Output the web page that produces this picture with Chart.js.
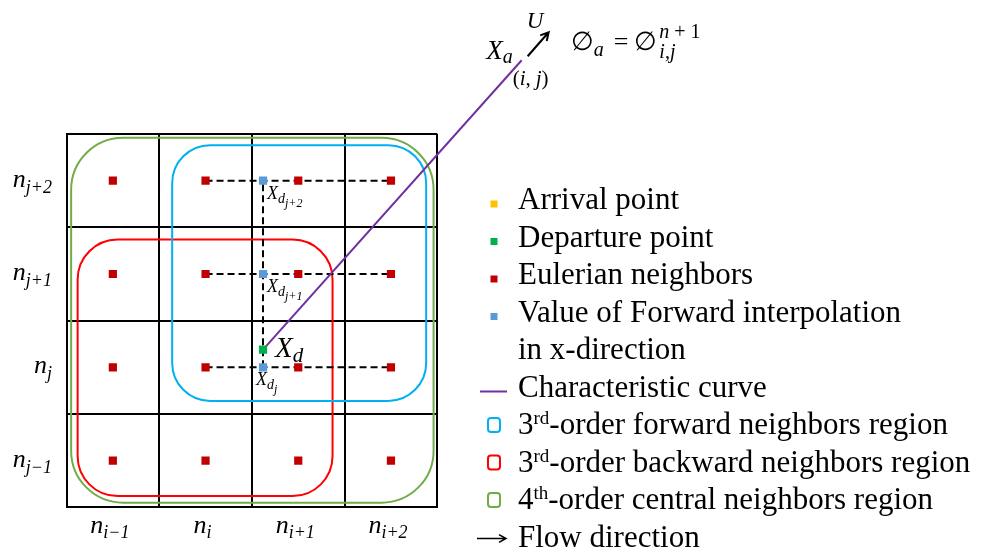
<!DOCTYPE html>
<html>
<head>
<meta charset="utf-8">
<script src="https://cdn.jsdelivr.net/npm/chart.js@4"></script>
<style>
  html, body { margin: 0; padding: 0; background: #fff; }
  #wrap { width: 981px; height: 554px; }
</style>
</head>
<body>
<div id="wrap"><canvas id="diagram" width="981" height="554"></canvas></div>
<script>
// cells: column 0..3 = n_{i-1}..n_{i+2}, row 0..3 = n_{j-1}..n_{j+2}
const colIdx = [0, 1, 2, 3];
const rowIdx = [0, 1, 2, 3];
const colSubs = ['i\u22121', 'i', 'i+1', 'i+2'];
const rowSubs = ['j\u22121', 'j', 'j+1', 'j+2'];
const cellEdges = [-0.5, 0.5, 1.5, 2.5, 3.5];

// forward interpolation in x-direction, on the column of the departure point
const interpX = 1.62;
const interpRows = [1, 2, 3];
const interpSubs = ['j', 'j+1', 'j+2'];

const departure = { x: 1.62, y: 1.19 };
const arrival = { x: 4.41, y: 4.29 };

// dashed lines run from column i to column i+2
const dashFrom = 1;
const dashTo = 3;

// regions as [left, right, bottom, top] in cell units
const regionForward = [0.64, 3.38, 0.64, 3.38];
const regionBackward = [-0.38, 2.37, -0.38, 2.37];
const regionCentral = [-0.45, 3.46, -0.45, 3.46];

const euler = [];
rowIdx.forEach(r => colIdx.forEach(c => euler.push({ x: c, y: r })));

const SERIF = '"Liberation Serif", "DejaVu Serif", serif';

function fontOf(s) {
  return (s.up ? '' : 'italic ') + s.size + 'px ' + SERIF;
}

// draw a run of text pieces (for subscripts), returns width
function mathRun(ctx, segs, x, y, align) {
  let w = 0;
  segs.forEach(s => {
    ctx.font = fontOf(s);
    s.w = ctx.measureText(s.t).width;
    w += s.w + (s.gap || 0);
  });
  let cx = x;
  if (align === 'right') cx = x - w;
  if (align === 'center') cx = x - w / 2;
  segs.forEach(s => {
    ctx.font = fontOf(s);
    ctx.fillText(s.t, cx, y + (s.dy || 0));
    cx += s.w + (s.gap || 0);
  });
  return w;
}

function arrow(ctx, x1, y1, x2, y2, head) {
  const a = Math.atan2(y2 - y1, x2 - x1);
  ctx.beginPath();
  ctx.moveTo(x1, y1);
  ctx.lineTo(x2, y2);
  ctx.moveTo(x2 - head * Math.cos(a - 0.5), y2 - head * Math.sin(a - 0.5));
  ctx.lineTo(x2, y2);
  ctx.lineTo(x2 - head * Math.cos(a + 0.5), y2 - head * Math.sin(a + 0.5));
  ctx.stroke();
}

const regionPlugin = {
  id: 'regions',
  beforeDatasetsDraw(chart) {
    const { ctx, scales: { x, y } } = chart;
    ctx.save();
    ctx.lineWidth = 2;
    [[regionBackward, '#FF0000', 40], [regionCentral, '#70AD47', 52], [regionForward, '#00B0F0', 38]]
      .forEach(([r, c, rad]) => {
        const l = x.getPixelForValue(r[0]), rt = x.getPixelForValue(r[1]);
        const b = y.getPixelForValue(r[2]), t = y.getPixelForValue(r[3]);
        ctx.strokeStyle = c;
        ctx.beginPath();
        ctx.roundRect(l, t, rt - l, b - t, rad);
        ctx.stroke();
      });
    ctx.restore();
  }
};

const labelPlugin = {
  id: 'labels',
  afterDraw(chart) {
    const { ctx, scales: { x, y } } = chart;
    ctx.save();
    ctx.fillStyle = '#000';
    ctx.strokeStyle = '#000';
    ctx.textBaseline = 'alphabetic';

    // cell labels
    rowIdx.forEach((r, k) => {
      mathRun(ctx, [{ t: 'n', size: 26 }, { t: rowSubs[k], size: 18, dy: 6 }], 52, y.getPixelForValue(r) + 6, 'right');
    });
    colIdx.forEach((c, k) => {
      mathRun(ctx, [{ t: 'n', size: 26 }, { t: colSubs[k], size: 18, dy: 5 }], x.getPixelForValue(c) - 3, 533, 'center');
    });

    // interpolated values
    interpRows.forEach((r, k) => {
      const px = x.getPixelForValue(interpX), py = y.getPixelForValue(r);
      const dx = k === 0 ? -7 : 4;
      mathRun(ctx, [{ t: 'X', size: 18 }, { t: 'd', size: 14, dy: 4 }, { t: interpSubs[k], size: 12, dy: 8 }], px + dx, py + 18, 'left');
    });

    // departure point
    let px = x.getPixelForValue(departure.x), py = y.getPixelForValue(departure.y);
    mathRun(ctx, [{ t: 'X', size: 29 }, { t: 'd', size: 21, dy: 5 }], px + 12, py + 7, 'left');

    // arrival point
    px = x.getPixelForValue(arrival.x); py = y.getPixelForValue(arrival.y);
    mathRun(ctx, [{ t: 'X', size: 27 }, { t: 'a', size: 20, dy: 4 }], px - 9, py - 1, 'right');
    mathRun(ctx, [{ t: '(', size: 21, up: true }, { t: 'i', size: 21 }, { t: ',', size: 21, up: true, gap: 5 }, { t: 'j', size: 21 }, { t: ')', size: 21, up: true }], px - 9, py + 25, 'left');
    mathRun(ctx, [{ t: 'U', size: 23 }], px + 5, py - 32, 'left');
    ctx.lineWidth = 2;
    arrow(ctx, px + 6, py - 4, px + 27, py - 28, 9);

    // phi_a = phi^{n+1}_{i,j}
    const fx = px + 49, fy = py - 10;
    let w = mathRun(ctx, [{ t: '\u2205', size: 26, up: true }, { t: 'a', size: 20, dy: 6, gap: 10 }, { t: '=', size: 26, up: true, gap: 6 }, { t: '\u2205', size: 26, up: true }], fx, fy, 'left');
    mathRun(ctx, [{ t: 'n', size: 20 }, { t: ' + ', size: 20, up: true }, { t: '1', size: 20, up: true }], fx + w + 2, fy - 12, 'left');
    mathRun(ctx, [{ t: 'i', size: 20 }, { t: ',', size: 20, up: true }, { t: 'j', size: 20 }], fx + w + 2, fy + 8, 'left');

    // legend
    const lx = 494, tx = 518;
    const items = [
      { kind: 'dot', color: '#FFC000', text: 'Arrival point' },
      { kind: 'dot', color: '#00B050', text: 'Departure point' },
      { kind: 'dot', color: '#C00000', text: 'Eulerian neighbors' },
      { kind: 'dot', color: '#5B9BD5', text: 'Value of Forward interpolation' },
      { kind: 'none', text: 'in x-direction' },
      { kind: 'line', color: '#7030A0', text: 'Characteristic curve' },
      { kind: 'box', color: '#00B0F0', lead: '3', sup: 'rd', text: '-order forward neighbors region' },
      { kind: 'box', color: '#FF0000', lead: '3', sup: 'rd', text: '-order backward neighbors region' },
      { kind: 'box', color: '#70AD47', lead: '4', sup: 'th', text: '-order central neighbors region' },
      { kind: 'arrow', text: 'Flow direction' }
    ];
    items.forEach((it, k) => {
      const by = 209 + k * 37.5;
      if (it.kind === 'dot') {
        ctx.fillStyle = it.color;
        ctx.fillRect(lx - 3.5, by - 8.5, 7, 7);
      } else if (it.kind === 'line') {
        ctx.strokeStyle = it.color;
        ctx.lineWidth = 2;
        ctx.beginPath(); ctx.moveTo(480, by - 5); ctx.lineTo(507, by - 5); ctx.stroke();
      } else if (it.kind === 'box') {
        ctx.strokeStyle = it.color;
        ctx.lineWidth = 2;
        ctx.beginPath(); ctx.roundRect(lx - 6, by - 16, 12, 14, 3); ctx.stroke();
      } else if (it.kind === 'arrow') {
        ctx.strokeStyle = '#000';
        ctx.lineWidth = 1.5;
        arrow(ctx, 477, by - 8, 506, by - 8, 8);
      }
      ctx.fillStyle = '#000';
      if (it.lead) {
        mathRun(ctx, [{ t: it.lead, size: 31, up: true }, { t: it.sup, size: 19, up: true, dy: -10 }, { t: it.text, size: 31, up: true }], tx, by, 'left');
      } else {
        ctx.font = '31px ' + SERIF;
        ctx.fillText(it.text, tx, by);
      }
    });
    ctx.restore();
  }
};

const sq = { pointStyle: 'rect', pointRadius: 5.8, borderWidth: 0, showLine: false };
const dash = { showLine: true, borderColor: '#000', borderWidth: 2, borderDash: [7, 4], pointRadius: 0 };

const datasets = [
  Object.assign({ label: 'Arrival point', data: [arrival], backgroundColor: '#FFC000', clip: false }, sq),
  Object.assign({ label: 'Departure point', data: [departure], backgroundColor: '#00B050' }, sq),
  Object.assign({ label: 'Value of Forward interpolation in x-direction', data: interpRows.map(r => ({ x: interpX, y: r })), backgroundColor: '#5B9BD5' }, sq),
  Object.assign({ label: 'Eulerian neighbors', data: euler, backgroundColor: '#C00000' }, sq),
  { label: 'Characteristic curve', data: [departure, arrival], showLine: true, borderColor: '#7030A0', borderWidth: 2, pointRadius: 0, clip: false },
  Object.assign({ label: 'x-interp vertical', data: [{ x: interpX, y: interpRows[0] }, { x: interpX, y: interpRows[2] }] }, dash)
];
interpRows.forEach(r => {
  datasets.push(Object.assign({ label: 'x-interp row ' + r, data: [{ x: dashFrom, y: r }, { x: dashTo, y: r }] }, dash));
});

function gridAxis() {
  return {
    type: 'linear',
    min: cellEdges[0],
    max: cellEdges[cellEdges.length - 1],
    afterBuildTicks: s => { s.ticks = cellEdges.map(v => ({ value: v })); },
    ticks: { display: false },
    grid: { color: '#000', lineWidth: 2, drawTicks: false },
    border: { color: '#000', width: 2 }
  };
}

new Chart(document.getElementById('diagram').getContext('2d'), {
  type: 'scatter',
  data: { datasets: datasets },
  options: {
    responsive: false,
    animation: false,
    events: [],
    layout: { padding: { left: 66.5, top: 134, right: 543.7, bottom: 46.7 } },
    scales: { x: gridAxis(), y: gridAxis() },
    plugins: { legend: { display: false }, tooltip: { enabled: false } }
  },
  plugins: [regionPlugin, labelPlugin]
});
</script>
</body>
</html>
